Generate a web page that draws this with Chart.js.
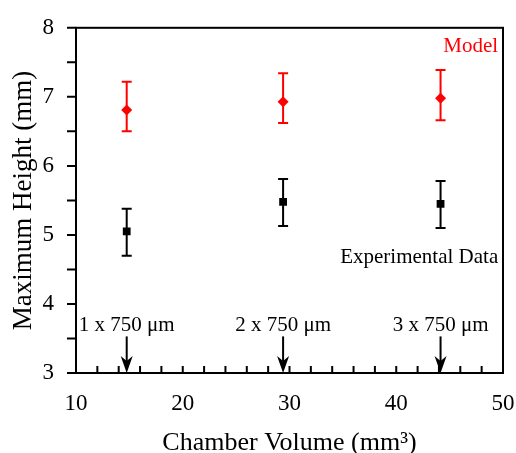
<!DOCTYPE html>
<html lang="en">
<head>
  <meta charset="UTF-8">
  <title>Maximum Height vs Chamber Volume</title>
  <script src="https://cdn.jsdelivr.net/npm/chart.js"></script>
  <style>
    html, body { margin: 0; padding: 0; background: #fff; }
    .chart-box { position: relative; width: 516px; height: 453px; }
  </style>
</head>
<body>
  <div class="chart-box">
    <canvas id="heightChart"></canvas>
  </div>

  <script>
    // chamber volumes (mm^3) for 1, 2 and 3 chambers
    const volumes = [14.75, 29.4, 44.15];
    const chamberLabels = ['1 x 750 μm', '2 x 750 μm', '3 x 750 μm'];

    // model prediction with its error range
    const modelHeight = [6.81, 6.93, 6.98];
    const modelLow = [6.50, 6.62, 6.66];
    const modelHigh = [7.22, 7.34, 7.39];

    // measured heights with error range
    const expHeight = [5.05, 5.48, 5.45];
    const expLow = [4.70, 5.13, 5.10];
    const expHigh = [5.38, 5.81, 5.78];

    const serif = "'Liberation Serif', 'DejaVu Serif', serif";

    function points(ys) {
      return volumes.map((v, i) => ({ x: v, y: ys[i] }));
    }

    // error bars, frame, inward/outward ticks, arrows and labels
    const decorations = {
      id: 'decorations',
      beforeDatasetsDraw(chart) {
        const { ctx, scales: { x, y } } = chart;
        const bars = [
          { low: modelLow, high: modelHigh, color: '#ff0000' },
          { low: expLow, high: expHigh, color: '#000000' }
        ];
        ctx.save();
        ctx.lineWidth = 2;
        bars.forEach(b => {
          ctx.strokeStyle = b.color;
          volumes.forEach((v, i) => {
            const px = x.getPixelForValue(v);
            const top = y.getPixelForValue(b.high[i]);
            const bot = y.getPixelForValue(b.low[i]);
            ctx.beginPath();
            ctx.moveTo(px, top); ctx.lineTo(px, bot);
            ctx.moveTo(px - 5, top); ctx.lineTo(px + 5, top);
            ctx.moveTo(px - 5, bot); ctx.lineTo(px + 5, bot);
            ctx.stroke();
          });
        });
        ctx.restore();
      },
      afterDraw(chart) {
        const { ctx, chartArea: a, scales: { x, y } } = chart;
        ctx.save();
        ctx.strokeStyle = '#000';
        ctx.lineWidth = 2;
        ctx.strokeRect(a.left, a.top, a.right - a.left, a.bottom - a.top);

        // y ticks point outward
        ctx.beginPath();
        y.ticks.forEach(t => {
          const py = y.getPixelForValue(t.value);
          ctx.moveTo(a.left - 9, py); ctx.lineTo(a.left, py);
        });
        // x ticks point inward
        x.ticks.forEach(t => {
          const px = x.getPixelForValue(t.value);
          ctx.moveTo(px, a.bottom); ctx.lineTo(px, a.bottom - 7);
        });
        ctx.stroke();

        // arrows marking chamber count
        ctx.fillStyle = '#000';
        ctx.font = '21px ' + serif;
        ctx.textAlign = 'center';
        ctx.textBaseline = 'middle';
        volumes.forEach((v, i) => {
          const px = x.getPixelForValue(v);
          const top = y.getPixelForValue(3.53);
          const bot = y.getPixelForValue(3);
          ctx.beginPath();
          ctx.moveTo(px, top); ctx.lineTo(px, bot - 8);
          ctx.stroke();
          ctx.beginPath();
          ctx.moveTo(px, bot);
          ctx.lineTo(px - 6, bot - 17);
          ctx.lineTo(px, bot - 12);
          ctx.lineTo(px + 6, bot - 17);
          ctx.closePath();
          ctx.fill();
          ctx.fillText(chamberLabels[i], px, y.getPixelForValue(3.69));
        });

        ctx.textAlign = 'right';
        ctx.fillStyle = '#ff0000';
        ctx.fillText('Model', x.getPixelForValue(49.55), y.getPixelForValue(7.73));
        ctx.fillStyle = '#000';
        ctx.fillText('Experimental Data', x.getPixelForValue(49.55), y.getPixelForValue(4.67));
        ctx.restore();
      }
    };

    const ctx = document.getElementById('heightChart').getContext('2d');
    const heightChart = new Chart(ctx, {
      type: 'scatter',
      data: {
        datasets: [
          {
            label: 'Model',
            data: points(modelHeight),
            pointStyle: 'rectRot',
            pointRadius: 5.5,
            backgroundColor: '#ff0000',
            borderColor: '#ff0000',
            borderWidth: 0
          },
          {
            label: 'Experimental Data',
            data: points(expHeight),
            pointStyle: 'rect',
            pointRadius: 5.5,
            backgroundColor: '#000000',
            borderColor: '#000000',
            borderWidth: 0
          }
        ]
      },
      options: {
        responsive: true,
        maintainAspectRatio: false,
        animation: false,
        layout: { padding: { top: 26, right: 13, left: 0, bottom: 0 } },
        plugins: {
          legend: { display: false },
          tooltip: { enabled: false }
        },
        scales: {
          x: {
            type: 'linear',
            min: 10,
            max: 50,
            grid: { display: false },
            border: { display: false },
            afterFit(scale) {
              scale.height = 80;
              scale.paddingLeft = 0;
              scale.paddingRight = 0;
            },
            ticks: {
              stepSize: 2,
              autoSkip: false,
              maxRotation: 0,
              padding: 9,
              color: '#000',
              font: { family: serif, size: 23 },
              callback: v => (v % 10 === 0 ? v : '')
            },
            title: {
              display: true,
              text: 'Chamber Volume (mm³)',
              color: '#000',
              font: { family: serif, size: 26, lineHeight: 1 },
              padding: { top: 0, bottom: -3 }
            }
          },
          y: {
            min: 3,
            max: 8,
            grid: { display: false },
            border: { display: false },
            afterFit(scale) { scale.width = 76; },
            ticks: {
              stepSize: 0.5,
              autoSkip: false,
              padding: 14,
              color: '#000',
              font: { family: serif, size: 23 },
              callback: v => (Number.isInteger(v) ? v : '')
            },
            title: {
              display: true,
              text: 'Maximum Height (mm)',
              color: '#000',
              font: { family: serif, size: 27, lineHeight: 1 },
              padding: { top: 10, bottom: 0 }
            }
          }
        }
      },
      plugins: [decorations]
    });
  </script>
</body>
</html>
